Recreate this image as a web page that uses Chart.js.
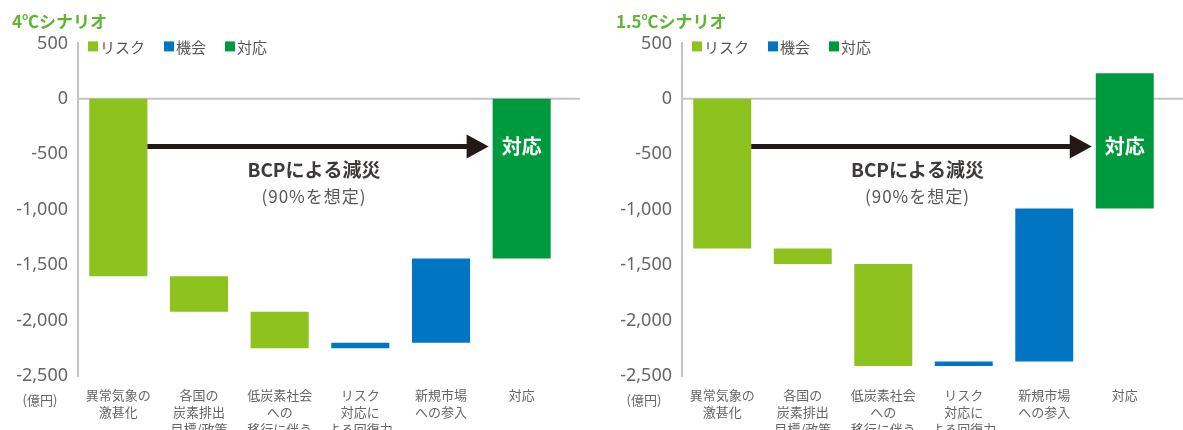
<!DOCTYPE html>
<html lang="ja">
<head>
<meta charset="utf-8">
<script src="https://cdn.jsdelivr.net/npm/chart.js@4.4.1/dist/chart.umd.min.js"></script>
<style>
  html, body { margin: 0; padding: 0; background: #fff; overflow: hidden; width: 1183px; height: 430px; }
  canvas { position: absolute; top: 0; }
  #chart4 { left: 0; }
  #chart15 { left: 604px; }
</style>
</head>
<body>
<canvas id="chart4" width="580" height="436"></canvas>
<canvas id="chart15" width="579" height="436"></canvas>
<script>
/* data (億円) */
var categories = [
  ["異常気象の", "激甚化"],
  ["各国の", "炭素排出", "目標/政策"],
  ["低炭素社会", "への", "移行に伴う"],
  ["リスク", "対応に", "よる回復力"],
  ["新規市場", "への参入"],
  ["対応"]
];
var seriesNames = ["リスク", "機会", "対応"];
var seriesColors = ["#8dc21f", "#0075c2", "#009a3e"];
var yMin = -2500, yMax = 500, yStep = 500;

// 4℃シナリオ : floating bars [from, to]
var risk4 = [[0, -1600], [-1600, -1920], [-1920, -2250], null, null, null];
var opp4  = [null, null, null, [-2250, -2200], [-2200, -1440], null];
var resp4 = [null, null, null, null, null, [0, -1440]];
var arrowLevel4 = -430;

// 1.5℃シナリオ
var risk15 = [[0, -1350], [-1350, -1490], [-1490, -2410], null, null, null];
var opp15  = [null, null, null, [-2410, -2370], [-2370, -990], null];
var resp15 = [null, null, null, null, null, [230, -990]];
var arrowLevel15 = -430;

var arrowText = "BCPによる減災";
var arrowSubText = "(90%を想定)";
var barLabel = "対応";
var unitLabel = "(億円)";

var JP = '"Noto Sans CJK JP", "Noto Sans", sans-serif';

// zero line, legend, arrow and notes
var overlay = {
  id: 'overlay',
  beforeDatasetsDraw: function (chart) {
    var ctx = chart.ctx, a = chart.chartArea;
    var y0 = chart.scales.y.getPixelForValue(0);
    ctx.save();
    ctx.strokeStyle = '#c4c4c4';
    ctx.lineWidth = 2;
    ctx.beginPath();
    ctx.moveTo(a.left, y0);
    ctx.lineTo(chart.width, y0);
    ctx.stroke();
    ctx.restore();
  },
  afterDatasetsDraw: function (chart, args, opts) {
    var ctx = chart.ctx, a = chart.chartArea, ys = chart.scales.y;
    ctx.save();

    // legend
    ctx.font = '15px ' + JP;
    ctx.textBaseline = 'middle';
    ctx.textAlign = 'left';
    var lx = a.left + 10, ly = a.top + 3;
    chart.data.datasets.forEach(function (ds) {
      ctx.fillStyle = ds.backgroundColor;
      ctx.fillRect(lx, ly - 5, 10, 10);
      ctx.fillStyle = '#555';
      ctx.fillText(ds.label, lx + 12, ly + 1);
      lx += 12 + ctx.measureText(ds.label).width + 19;
    });

    // arrow
    var first = chart.getDatasetMeta(0).data[0];
    var last = chart.getDatasetMeta(2).data[5];
    var x0 = first.x + first.width / 2;
    var x1 = last.x - last.width / 2 - 4;
    var y = ys.getPixelForValue(opts.arrowLevel);
    ctx.strokeStyle = '#231815';
    ctx.fillStyle = '#231815';
    ctx.lineWidth = 5;
    ctx.beginPath();
    ctx.moveTo(x0, y);
    ctx.lineTo(x1 - 18, y);
    ctx.stroke();
    ctx.beginPath();
    ctx.moveTo(x1, y);
    ctx.lineTo(x1 - 22, y - 12);
    ctx.lineTo(x1 - 22, y + 12);
    ctx.closePath();
    ctx.fill();

    var mx = (x0 + x1) / 2 - 4;
    ctx.textAlign = 'center';
    ctx.fillStyle = '#3e3a39';
    ctx.font = 'bold 19px ' + JP;
    ctx.fillText(arrowText, mx, y + 23);
    ctx.fillStyle = '#595757';
    ctx.font = '17px ' + JP;
    ctx.letterSpacing = '1px';
    ctx.fillText(arrowSubText, mx, y + 50);
    ctx.letterSpacing = '0px';

    // label in the response bar
    ctx.fillStyle = '#ffffff';
    ctx.font = 'bold 20px ' + JP;
    ctx.fillText(barLabel, last.x, y);

    // unit
    ctx.fillStyle = '#666';
    ctx.font = '13px ' + JP;
    ctx.fillText(unitLabel, a.left - 38, a.bottom + 24);
    ctx.restore();
  }
};

function makeChart(id, title, risk, opp, resp, arrowLevel) {
  var series = [risk, opp, resp];
  return new Chart(document.getElementById(id), {
    type: 'bar',
    data: {
      labels: categories,
      datasets: series.map(function (d, i) {
        return {
          label: seriesNames[i],
          data: d,
          backgroundColor: seriesColors[i],
          borderWidth: 0,
          grouped: false,
          skipNull: true,
          barPercentage: 0.72,
          categoryPercentage: 1
        };
      })
    },
    options: {
      responsive: false,
      animation: false,
      layout: { padding: { left: 12, right: 18, top: 0, bottom: 0 } },
      plugins: {
        legend: { display: false },
        tooltip: { enabled: false },
        title: {
          display: true,
          text: title,
          align: 'start',
          color: '#5fb535',
          font: { family: JP, size: 17, weight: 'bold' },
          padding: { top: 11, bottom: 12 }
        },
        overlay: { arrowLevel: arrowLevel }
      },
      scales: {
        x: {
          afterFit: function (scale) { scale.height = 60; },
          grid: { display: false },
          border: { display: false },
          ticks: {
            color: '#666',
            font: { family: JP, size: 13, lineHeight: 1.3 },
            padding: 3,
            maxRotation: 0,
            autoSkip: false
          }
        },
        y: {
          min: yMin,
          max: yMax,
          afterFit: function (scale) { scale.width = 66; },
          grid: { display: false, drawTicks: false },
          border: { color: '#c4c4c4', width: 2 },
          ticks: {
            stepSize: yStep,
            color: '#666',
            padding: 10,
            font: { family: '"Noto Sans", sans-serif', size: 18 }
          }
        }
      }
    },
    plugins: [overlay]
  });
}

makeChart('chart4', '4℃シナリオ', risk4, opp4, resp4, arrowLevel4);
makeChart('chart15', '1.5℃シナリオ', risk15, opp15, resp15, arrowLevel15);
</script>
</body>
</html>
